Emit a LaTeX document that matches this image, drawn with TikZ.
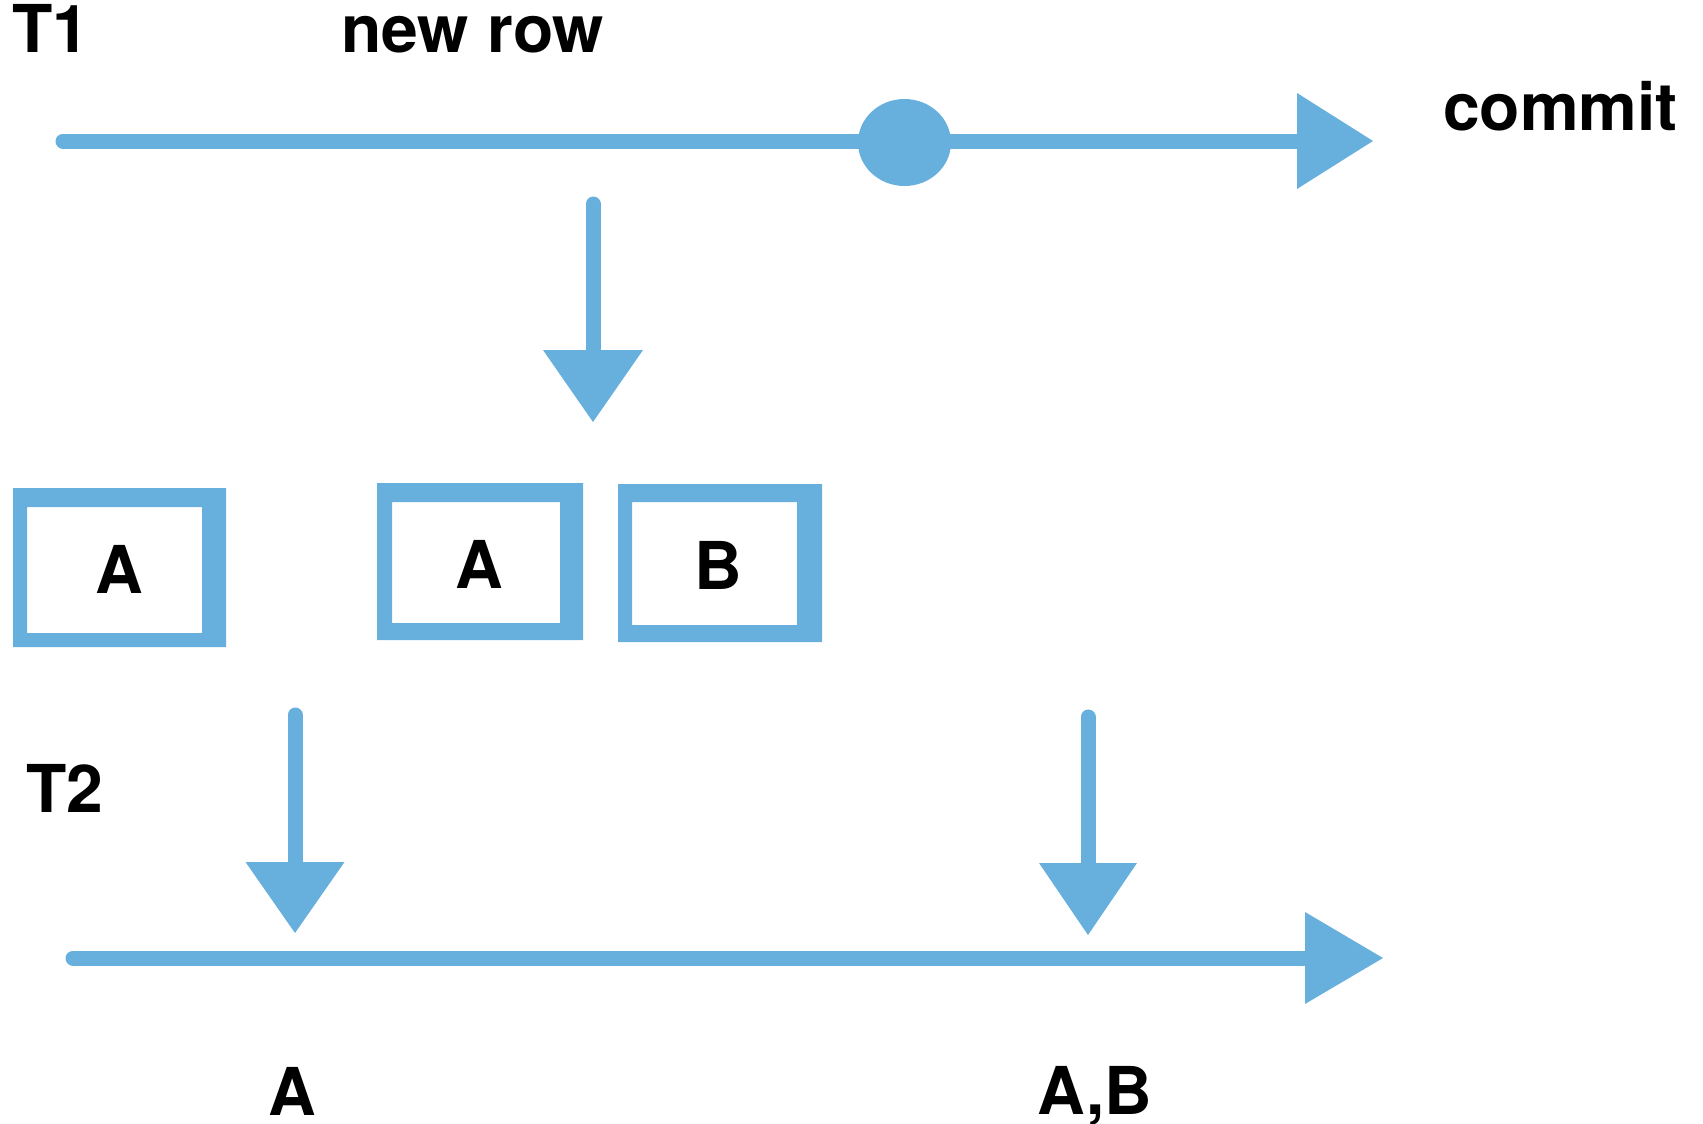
\documentclass[tikz,border=0pt]{standalone}
\usepackage{fontspec}
\setmainfont{TeX Gyre Heros}
\usetikzlibrary{arrows.meta,shapes.geometric}
\definecolor{sketchblue}{RGB}{103,175,220}
\tikzset{
  lbl/.style={font=\fontsize{66}{78}\selectfont\bfseries, inner sep=0pt, text=black},
  flow/.style={draw=sketchblue, line width=15pt, line cap=round,
    -{Triangle[length=76pt,width=96pt,line width=0pt]}},
  frame/.style={fill=sketchblue, even odd rule},
  dot/.style={ellipse, fill=sketchblue, minimum width=93pt, minimum height=87pt, inner sep=0pt}
}
\begin{document}
\begin{tikzpicture}[x=1pt,y=-1pt]
\useasboundingbox (0,0) rectangle (1703,1124);
% texts
\node[lbl, anchor=base west] (t1) at (12,53) {T1};
\node[lbl, anchor=base west] (newrow) at (341,53) {new row};
\node[lbl, anchor=base west] (commit) at (1443,130) {commit};
\node[lbl, anchor=base west] (t2) at (26,812) {T2};
\node[lbl, anchor=base] (ra) at (292.5,1115) {A};
\node[lbl, anchor=base west] (rab) at (1037,1114) {A,B};
% top timeline
\coordinate (t1s) at (63,141);
\coordinate (t1e) at (1373,141);
\draw[flow] (t1s) -- (t1e);
\node[dot] (ins) at (904.5,142.5) {};
% insert arrow
\coordinate (ns) at (593,204);
\coordinate (ne) at (593,422);
\draw[flow, -{Triangle[length=72pt,width=100pt,line width=0pt]}] (ns) -- (ne);
% boxes
\fill[frame] (13,488) rectangle (226,647) (27,507) rectangle (202,633);
\fill[frame] (377,483) rectangle (583,640) (392,502) rectangle (560,623);
\fill[frame] (618,484) rectangle (822,642) (632,502) rectangle (797,625);
\node[lbl, anchor=base] (ba1) at (119.5,593) {A};
\node[lbl, anchor=base] (ba2) at (479,588) {A};
\node[lbl, anchor=base] (bb) at (718,589) {B};
% reads
\coordinate (r1s) at (295,715);
\coordinate (r1e) at (295,933);
\draw[flow, -{Triangle[length=71pt,width=99pt,line width=0pt]}] (r1s) -- (r1e);
\coordinate (r2s) at (1088,717);
\coordinate (r2e) at (1088,935);
\draw[flow, -{Triangle[length=72pt,width=98pt,line width=0pt]}] (r2s) -- (r2e);
% bottom timeline
\coordinate (t2s) at (73,958);
\coordinate (t2e) at (1383,958);
\draw[flow, -{Triangle[length=78pt,width=92pt,line width=0pt]}] (t2s) -- (t2e);
\end{tikzpicture}
\end{document}
